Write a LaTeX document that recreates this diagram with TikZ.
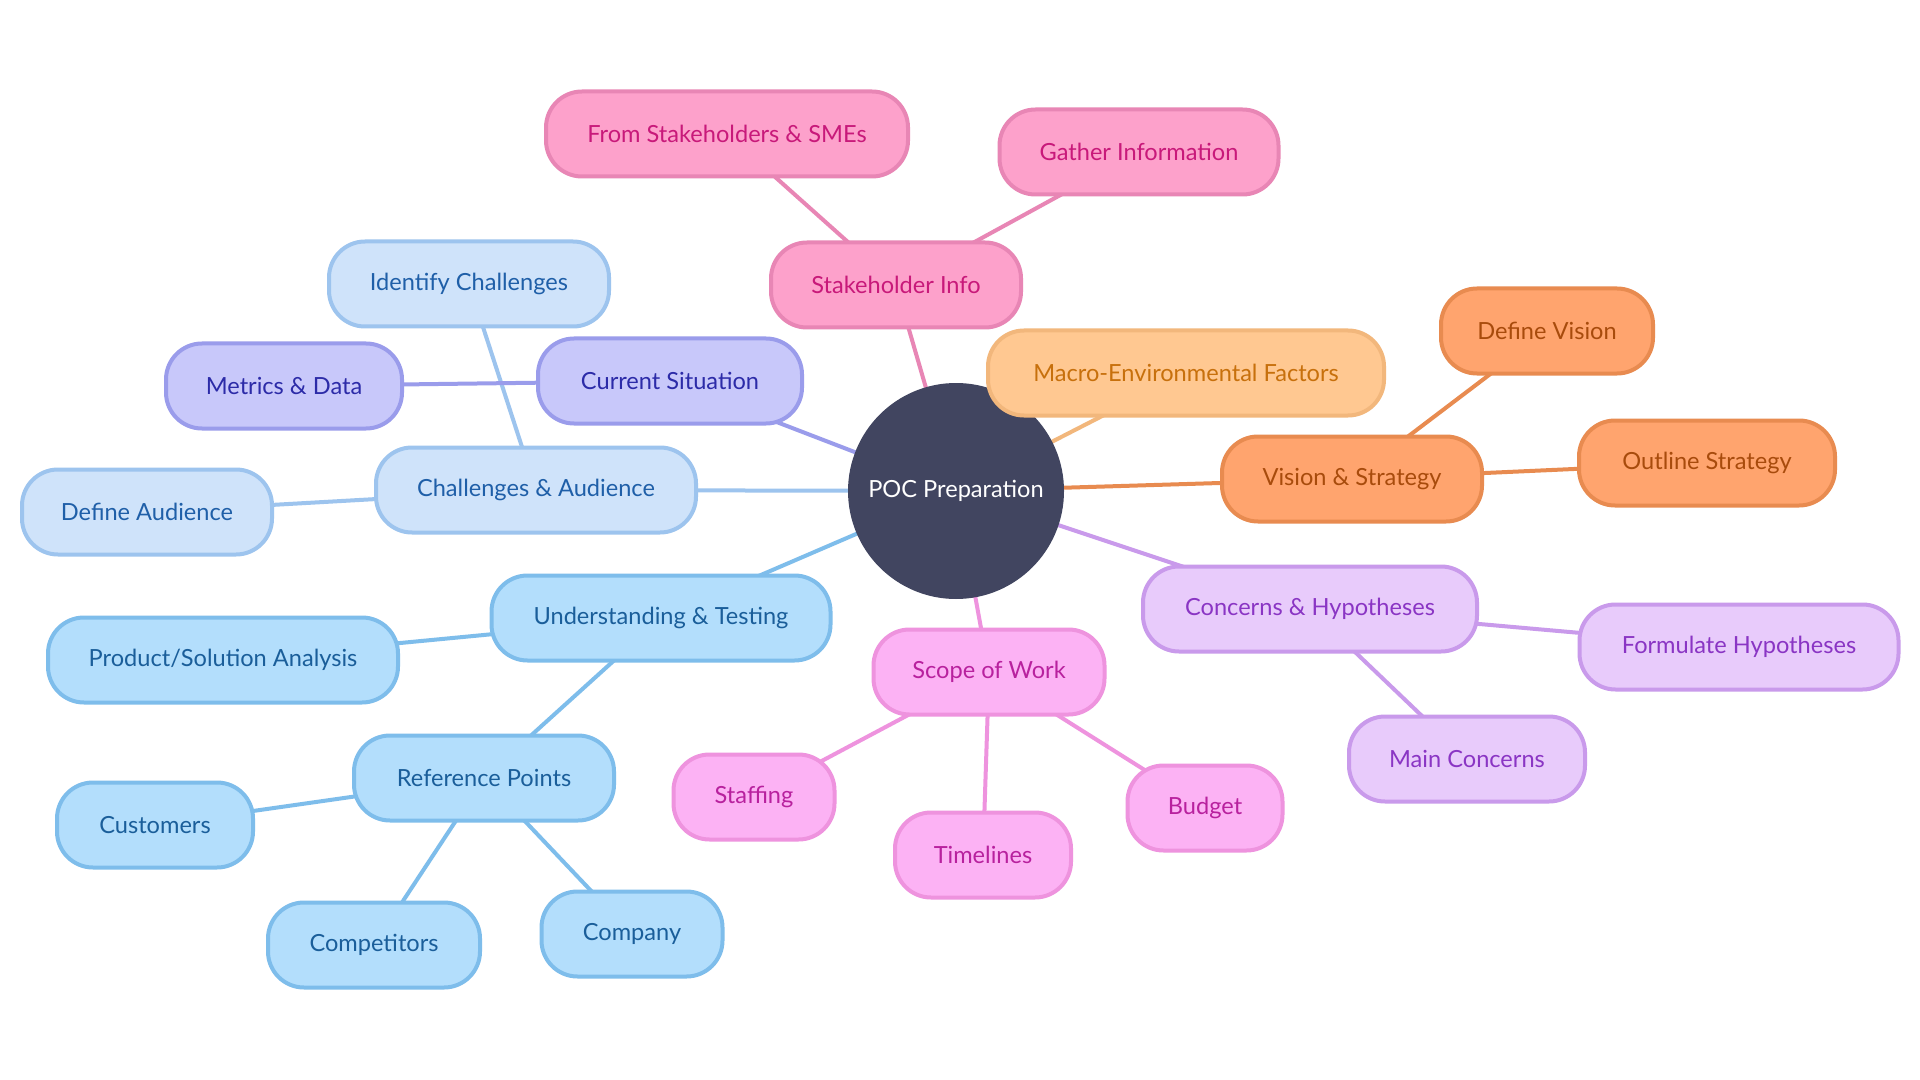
\documentclass[tikz,border=0pt]{standalone}
\usepackage{fontspec}
\setmainfont{Lato}
\usetikzlibrary{backgrounds}
\definecolor{core}{HTML}{414560}
\definecolor{stkF}{HTML}{FDA1CB}\definecolor{stkD}{HTML}{E886B5}\definecolor{stkT}{HTML}{C8197A}
\definecolor{macF}{HTML}{FFC891}\definecolor{macD}{HTML}{F2B77C}\definecolor{macT}{HTML}{C7700C}
\definecolor{visF}{HTML}{FFA46E}\definecolor{visD}{HTML}{E88B50}\definecolor{visT}{HTML}{A84B0C}
\definecolor{conF}{HTML}{E8CBFB}\definecolor{conD}{HTML}{C99AEB}\definecolor{conT}{HTML}{8A35C4}
\definecolor{scoF}{HTML}{FCB2F4}\definecolor{scoD}{HTML}{EE93DE}\definecolor{scoT}{HTML}{B8219E}
\definecolor{undF}{HTML}{B3DEFC}\definecolor{undD}{HTML}{7EBDEB}\definecolor{undT}{HTML}{1A5E9A}
\definecolor{chaF}{HTML}{CFE3FA}\definecolor{chaD}{HTML}{9DC4EE}\definecolor{chaT}{HTML}{1F5FA8}
\definecolor{curF}{HTML}{C8C8FA}\definecolor{curD}{HTML}{9A9CEB}\definecolor{curT}{HTML}{2C2BA8}
\tikzset{
  box/.style={rounded corners=18pt, line width=2pt, minimum height=42.5pt, inner sep=0pt, font=\fontsize{11.8pt}{13pt}\selectfont},
  stk/.style={box, fill=stkF, draw=stkD, text=stkT},
  mac/.style={box, fill=macF, draw=macD, text=macT},
  vis/.style={box, fill=visF, draw=visD, text=visT},
  con/.style={box, fill=conF, draw=conD, text=conT},
  sco/.style={box, fill=scoF, draw=scoD, text=scoT},
  und/.style={box, fill=undF, draw=undD, text=undT},
  cha/.style={box, fill=chaF, draw=chaD, text=chaT},
  cur/.style={box, fill=curF, draw=curD, text=curT},
  link/.style={line width=2pt},
}
\begin{document}
\begin{tikzpicture}[x=0.5pt,y=-0.5pt]
\useasboundingbox (0,0) rectangle (1920,1080);
\node[circle, fill=core, text=white, minimum size=108pt, inner sep=0pt, font=\fontsize{11.8pt}{13pt}\selectfont] (poc) at (956,491) {POC Preparation};
\node[stk, minimum width=125pt] (stake) at (896,285) {Stakeholder Info};
\node[stk, minimum width=181pt] (from) at (727,134) {From Stakeholders \& SMEs};
\node[stk, minimum width=139.5pt] (gather) at (1139,152) {Gather Information};
\node[mac, minimum width=198pt] (macro) at (1186,373) {Macro-Environmental Factors};
\node[vis, minimum width=130pt] (vision) at (1352,479) {Vision \& Strategy};
\node[vis, minimum width=106pt] (defvis) at (1547,331) {Define Vision};
\node[vis, minimum width=128pt] (outline) at (1707,463) {Outline Strategy};
\node[con, minimum width=167pt] (concern) at (1310,609) {Concerns \& Hypotheses};
\node[con, minimum width=159.5pt] (formul) at (1739,647) {Formulate Hypotheses};
\node[con, minimum width=118pt] (mainc) at (1467,759) {Main Concerns};
\node[sco, minimum width=115.5pt] (scope) at (989,672) {Scope of Work};
\node[sco, minimum width=80.5pt] (staff) at (754,797) {Staffing};
\node[sco, minimum width=88pt] (time) at (983,855) {Timelines};
\node[sco, minimum width=77.5pt] (budget) at (1205,808) {Budget};
\node[und, minimum width=169.5pt] (under) at (661,618) {Understanding \& Testing};
\node[und, minimum width=175pt] (prod) at (223,660) {Product/Solution Analysis};
\node[und, minimum width=130pt] (refp) at (484,778) {Reference Points};
\node[und, minimum width=98pt] (cust) at (155,825) {Customers};
\node[und, minimum width=106pt] (comp) at (374,945) {Competitors};
\node[und, minimum width=90.5pt] (company) at (632,934) {Company};
\node[cha, minimum width=160pt] (chall) at (536,490) {Challenges \& Audience};
\node[cha, minimum width=140pt] (ident) at (469,284) {Identify Challenges};
\node[cha, minimum width=125pt] (defaud) at (147,512) {Define Audience};
\node[cur, minimum width=132pt] (current) at (670,381) {Current Situation};
\node[cur, minimum width=118pt] (metrics) at (284,386) {Metrics \& Data};
\begin{scope}[on background layer]
\fill[white] (0,0) rectangle (1920,1080);
\draw[link, stkD] (poc.center) -- (stake.center);
\draw[link, stkD] (stake.center) -- (from.center);
\draw[link, stkD] (stake.center) -- (gather.center);
\draw[link, macD] (poc.center) -- (macro.center);
\draw[link, visD] (poc.center) -- (vision.center);
\draw[link, visD] (vision.center) -- (defvis.center);
\draw[link, visD] (vision.center) -- (outline.center);
\draw[link, conD] (poc.center) -- (concern.center);
\draw[link, conD] (concern.center) -- (formul.center);
\draw[link, conD] (concern.center) -- (mainc.center);
\draw[link, scoD] (poc.center) -- (scope.center);
\draw[link, scoD] (scope.center) -- (staff.center);
\draw[link, scoD] (scope.center) -- (time.center);
\draw[link, scoD] (scope.center) -- (budget.center);
\draw[link, undD] (poc.center) -- (under.center);
\draw[link, undD] (under.center) -- (prod.center);
\draw[link, undD] (under.center) -- (refp.center);
\draw[link, undD] (refp.center) -- (cust.center);
\draw[link, undD] (refp.center) -- (comp.center);
\draw[link, undD] (refp.center) -- (company.center);
\draw[link, chaD] (poc.center) -- (chall.center);
\draw[link, chaD] (chall.center) -- (ident.center);
\draw[link, chaD] (chall.center) -- (defaud.center);
\draw[link, curD] (poc.center) -- (current.center);
\draw[link, curD] (current.center) -- (metrics.center);
\end{scope}
\end{tikzpicture}
\end{document}
